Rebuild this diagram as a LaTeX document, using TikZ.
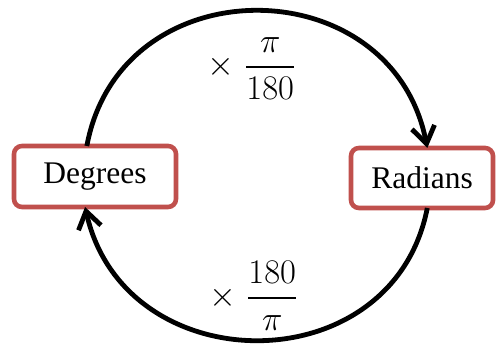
\documentclass[tikz,border=0pt]{standalone}
\usepackage{amsmath}
\usepackage{fontspec}
\setmainfont{Liberation Serif}
\usepackage{tikz}
\usetikzlibrary{arrows.meta}
\definecolor{boxred}{RGB}{192,80,77}

\tikzset{
  unitbox/.style={draw=boxred, line width=2.3pt, rounded corners=4pt, fill=white,
    outer sep=0pt, font=\fontsize{15.75}{19}\selectfont},
  conn/.style={line width=2.4pt, -{Straight Barb[length=8.5pt,width=11.5pt]}},
  factor/.style={anchor=base, font=\fontsize{17.5}{21}\selectfont}
}

\begin{document}
\begin{tikzpicture}[x=0.5pt, y=0.5pt]
  \useasboundingbox (0,0) rectangle (496,347);

  % Units
  \node[unitbox, minimum width=81pt, minimum height=30.5pt] (deg) at (95,170.5) {Degrees};
  \node[unitbox, minimum width=71pt, minimum height=30pt] (rad) at (422,169) {Radians};

  % Conversions
  \draw[conn] (deg.105) .. controls +(33.6,181.3) and +(-35.3,181) .. (rad.80);
  \draw[conn] (rad.-80) .. controls +(-34.5,-177) and +(39.4,-176.1) .. (deg.-108);

  % Factors
  \node[factor] (torad) at (252,271.3) {$\times\;\dfrac{\pi}{180}$};
  \node[factor] (todeg) at (254,40.3) {$\times\;\dfrac{180}{\pi}$};
\end{tikzpicture}
\end{document}
